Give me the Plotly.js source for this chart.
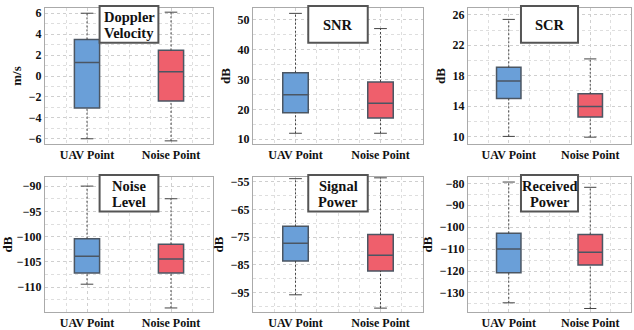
<!DOCTYPE html>
<html>
<head>
<meta charset="utf-8">
<script src="https://cdn.plot.ly/plotly-3.0.1.min.js"></script>
<style>html,body{margin:0;padding:0;background:#fff;}#chart{width:634px;height:330px;}</style>
</head>
<body>
<div id="chart"></div>
<script>
// ---- data ----
const categories = ["UAV Point", "Noise Point"];
const panelTitles = [["Doppler", "Velocity"], ["SNR"], ["SCR"], ["Noise", "Level"], ["Signal", "Power"], ["Received", "Power"]];
const units = ["m/s", "dB", "dB", "dB", "dB", "dB"];

// each array: [UAV Point, Noise Point]
const lowerWhisker = [[-6.0, -6.2], [12.0, 12.0], [10.0, 9.9], [-109.4, -114.1], [-95.8, -100.6], [-134.5, -137.1]];
const q1Values     = [[-3.05, -2.4], [18.9, 17.1], [15.0, 12.55], [-107.2, -107.2], [-83.6, -87.2], [-120.8, -117.2]];
const medianValues = [[1.3, 0.4], [24.9, 22.1], [17.3, 13.95], [-103.85, -104.4], [-77.2, -81.5], [-109.9, -111.4]];
const q3Values     = [[3.5, 2.45], [32.3, 29.2], [19.1, 15.6], [-100.4, -101.5], [-71.1, -74.0], [-102.8, -103.3]];
const upperWhisker = [[6.0, 6.1], [52.2, 47.1], [25.4, 20.2], [-90.0, -92.5], [-53.9, -53.6], [-79.4, -81.8]];

const yRanges = [[-6.5, 6.5], [8.4, 54], [9.0, 26.9], [-114.9, -88.2], [-102, -53.3], [-138.7, -77.1]];
const yDticks = [2, 10, 4, 5, 10, 10];
const yTick0  = [0, 10, 10, -90, -55, -80];
const yMinor  = [1, 5, 2, 2.5, 5, 5];

// ---- style ----
const fillColors = ["#6a9fd8", "#ef5f6c"];
const boxLine = "#4b5663";
const serif = "Liberation Serif, Times New Roman, serif";
const textColor = "#111";
const colDom = [[45, 213], [253, 423], [468, 631]];
const rowDom = [[8, 144], [177, 312]];
const W = 634, H = 330;

const traces = [];
const layout = {
  width: W, height: H,
  margin: {l: 0, r: 0, t: 0, b: 0},
  paper_bgcolor: "#fff", plot_bgcolor: "#fff",
  showlegend: false,
  font: {family: serif, color: textColor, size: 12, weight: 700},
  annotations: [], shapes: []
};

for (let p = 0; p < 6; p++) {
  const r = Math.floor(p / 3), c = p % 3;
  const sfx = p === 0 ? "" : String(p + 1);
  const xa = "x" + sfx, ya = "y" + sfx;
  for (let g = 0; g < 2; g++) {
    traces.push({
      type: "box", x: [g], xaxis: xa, yaxis: ya,
      q1: [q1Values[p][g]], median: [medianValues[p][g]], q3: [q3Values[p][g]],
      lowerfence: [q1Values[p][g]], upperfence: [q3Values[p][g]],
      width: 0.3, whiskerwidth: 0, boxpoints: false,
      fillcolor: fillColors[g], line: {color: boxLine, width: 1.5},
      hoverinfo: "skip"
    });
    traces.push({
      type: "scatter", mode: "lines", xaxis: xa, yaxis: ya,
      x: [g, g, null, g, g],
      y: [lowerWhisker[p][g], q1Values[p][g], null, q3Values[p][g], upperWhisker[p][g]],
      line: {color: "#444", width: 1, dash: "2px,2px"}, hoverinfo: "skip"
    });
    const cw = 0.075;
    traces.push({
      type: "scatter", mode: "lines", xaxis: xa, yaxis: ya,
      x: [g - cw, g + cw, null, g - cw, g + cw],
      y: [lowerWhisker[p][g], lowerWhisker[p][g], null, upperWhisker[p][g], upperWhisker[p][g]],
      line: {color: "#444", width: 1}, hoverinfo: "skip"
    });
  }
  const gridCommon = {showgrid: true, gridcolor: "#cfcfcf", griddash: "dot", gridwidth: 1};
  layout["xaxis" + sfx] = Object.assign({
    domain: [colDom[c][0] / W, colDom[c][1] / W],
    anchor: ya, range: [-0.5, 1.5], tickvals: [0, 1], ticktext: categories,
    ticks: "", zeroline: false, showline: true, mirror: true, linecolor: "#aaaaaa", linewidth: 1,
    tickfont: {family: serif, size: 12, weight: 700, color: textColor},
    minor: {dtick: 0.25, tick0: 0, showgrid: true, gridcolor: "#dedede", griddash: "dot", gridwidth: 1, ticks: ""}
  }, gridCommon);
  layout["yaxis" + sfx] = Object.assign({
    domain: [1 - rowDom[r][1] / H, 1 - rowDom[r][0] / H],
    anchor: xa, range: yRanges[p], dtick: yDticks[p], tick0: yTick0[p],
    ticks: "", zeroline: false, showline: true, mirror: true, linecolor: "#aaaaaa", linewidth: 1,
    tickfont: {family: serif, size: 12, weight: 700, color: textColor},
    title: {text: units[p], font: {family: serif, size: 13, weight: 700, color: textColor}, standoff: 4},
    minor: {dtick: yMinor[p], tick0: yTick0[p], showgrid: true, gridcolor: "#dedede", griddash: "dot", gridwidth: 1, ticks: ""}
  }, gridCommon);
  layout.shapes.push({
    type: "rect", xref: xa, yref: ya + " domain", layer: "above",
    x0: 0.15, x1: 0.85, y0: 0.745, y1: 1.015,
    fillcolor: "#fff", line: {color: "#555", width: 2}
  });
  const lines = panelTitles[p];
  const ys = lines.length === 2 ? [0.935, 0.818] : [0.877];
  lines.forEach((t, i) => {
    layout.annotations.push({
      text: t, xref: xa, yref: ya + " domain",
      x: 0.5, y: ys[i], xanchor: "center", yanchor: "middle", showarrow: false,
      font: {family: serif, size: 14.5, weight: 700, color: "#111"}
    });
  });
}

Plotly.newPlot("chart", traces, layout, {staticPlot: true, displayModeBar: false});
</script>
</body>
</html>
